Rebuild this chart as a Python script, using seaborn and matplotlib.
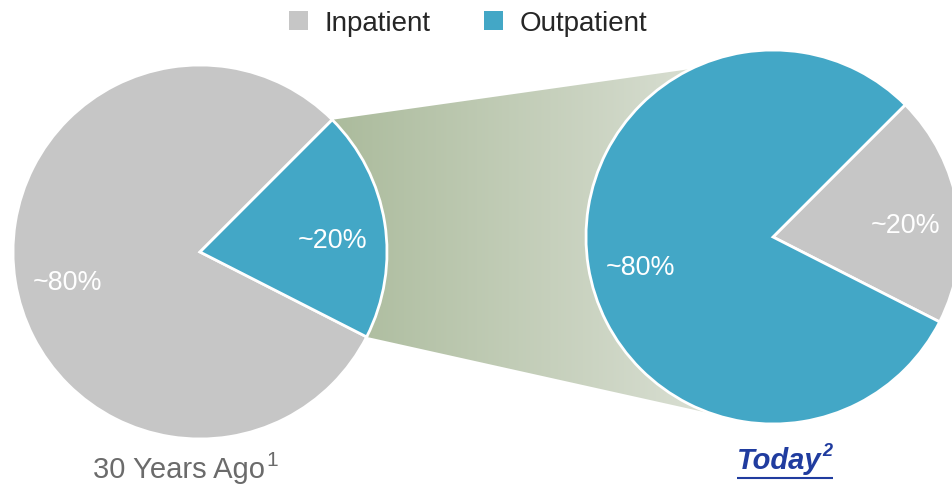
import numpy as np
import matplotlib
matplotlib.use("Agg")
import matplotlib.pyplot as plt
import matplotlib.colors as mcolors
from matplotlib.patches import Patch, Polygon
from matplotlib import font_manager
import seaborn as sns

# data
categories = ["Inpatient", "Outpatient"]
past_share = [80, 20]     # 30 years ago
today_share = [20, 80]    # today
titles = ["30 Years Ago", "Today"]
footnotes = ["1", "2"]

sns.set_theme(style="white")
plt.rcParams["font.family"] = ["Liberation Sans", "DejaVu Sans"]

installed = {f.name for f in font_manager.fontManager.ttflist}
has_narrow = "Liberation Sans Narrow" in installed
narrow = "Liberation Sans Narrow" if has_narrow else "Liberation Sans"
shrink = 1.0 if has_narrow else 0.84

colors = sns.color_palette(["#c6c6c6", "#43a7c6"])

W, H = 952, 485
fig = plt.figure(figsize=(W / 100, H / 100), dpi=100)
ax = fig.add_axes([0, 0, 1, 1])

R = 187
left_c = (200, H - 253)
right_c = (773, H - 238)


def on_circle(c, deg):
    return (c[0] + R * np.cos(np.radians(deg)), c[1] + R * np.sin(np.radians(deg)))


# gradient band joining the outpatient slice to the "today" pie
band = [left_c, on_circle(left_c, 45), on_circle(right_c, 116), right_c,
        on_circle(right_c, 251), on_circle(left_c, -27)]
c0 = np.array(mcolors.to_rgb("#abbb9c"))
c1 = np.array(mcolors.to_rgb("#dce1d6"))
ramp = np.linspace(0, 1, 256)[:, None]
img = (c0 + (c1 - c0) * ramp)[None, :, :]
im = ax.imshow(img, extent=(330, 730, 0, H), aspect="auto", zorder=0)
clip = Polygon(band, closed=True, facecolor="none", edgecolor="none")
ax.add_patch(clip)
im.set_clip_path(clip)

pct = lambda p: f"~{p:.0f}%"
label_style = dict(color="white", fontsize=23 * shrink, family=narrow)
edge = dict(edgecolor="white", linewidth=2)

_, _, auto_l = ax.pie(past_share, colors=colors, startangle=45, center=left_c,
                      radius=R, autopct=pct, pctdistance=0.72,
                      wedgeprops=edge, textprops=label_style)
_, _, auto_r = ax.pie(today_share, colors=colors, startangle=-27, center=right_c,
                      radius=R, autopct=pct, pctdistance=0.72,
                      wedgeprops=edge, textprops=label_style)
for t in auto_l + auto_r:
    x, y = t.get_position()
    t.set_position((x, y - 9))

ax.set_xlim(0, W)
ax.set_ylim(0, H)
ax.set_aspect("equal")
ax.axis("off")

# captions
t_past = ax.text(93, H - 478, titles[0], ha="left", va="baseline",
                 fontsize=25 * shrink, color="#6b6b6b", family=narrow)
t_today = ax.text(737, H - 469, titles[1], ha="left", va="baseline",
                  fontsize=21, color="#203c9f", fontweight="bold", fontstyle="italic")

fig.canvas.draw()
bb = t_past.get_window_extent()
ax.text(bb.x1 + 1, H - 466, footnotes[0], ha="left", va="baseline",
        fontsize=15, color="#6b6b6b", family=narrow)
bb = t_today.get_window_extent()
s2 = ax.text(bb.x1 + 1, H - 456, footnotes[1], ha="left", va="baseline",
             fontsize=13, color="#203c9f", fontweight="bold", fontstyle="italic")
fig.canvas.draw()
bb2 = s2.get_window_extent()
ax.plot([bb.x0, bb2.x1], [H - 478.5, H - 478.5], color="#203c9f", lw=1.5,
        solid_capstyle="butt")

handles = [Patch(facecolor=c, edgecolor="none", label=l) for c, l in zip(colors, categories)]
fig.legend(handles=handles, loc="center", bbox_to_anchor=(468 / W, 1 - 24 / H),
           ncol=2, frameon=False, fontsize=20, handlelength=0.68, handleheight=0.7,
           handletextpad=0.58, columnspacing=1.95)

fig.savefig("out.png", dpi=100)
plt.close()
